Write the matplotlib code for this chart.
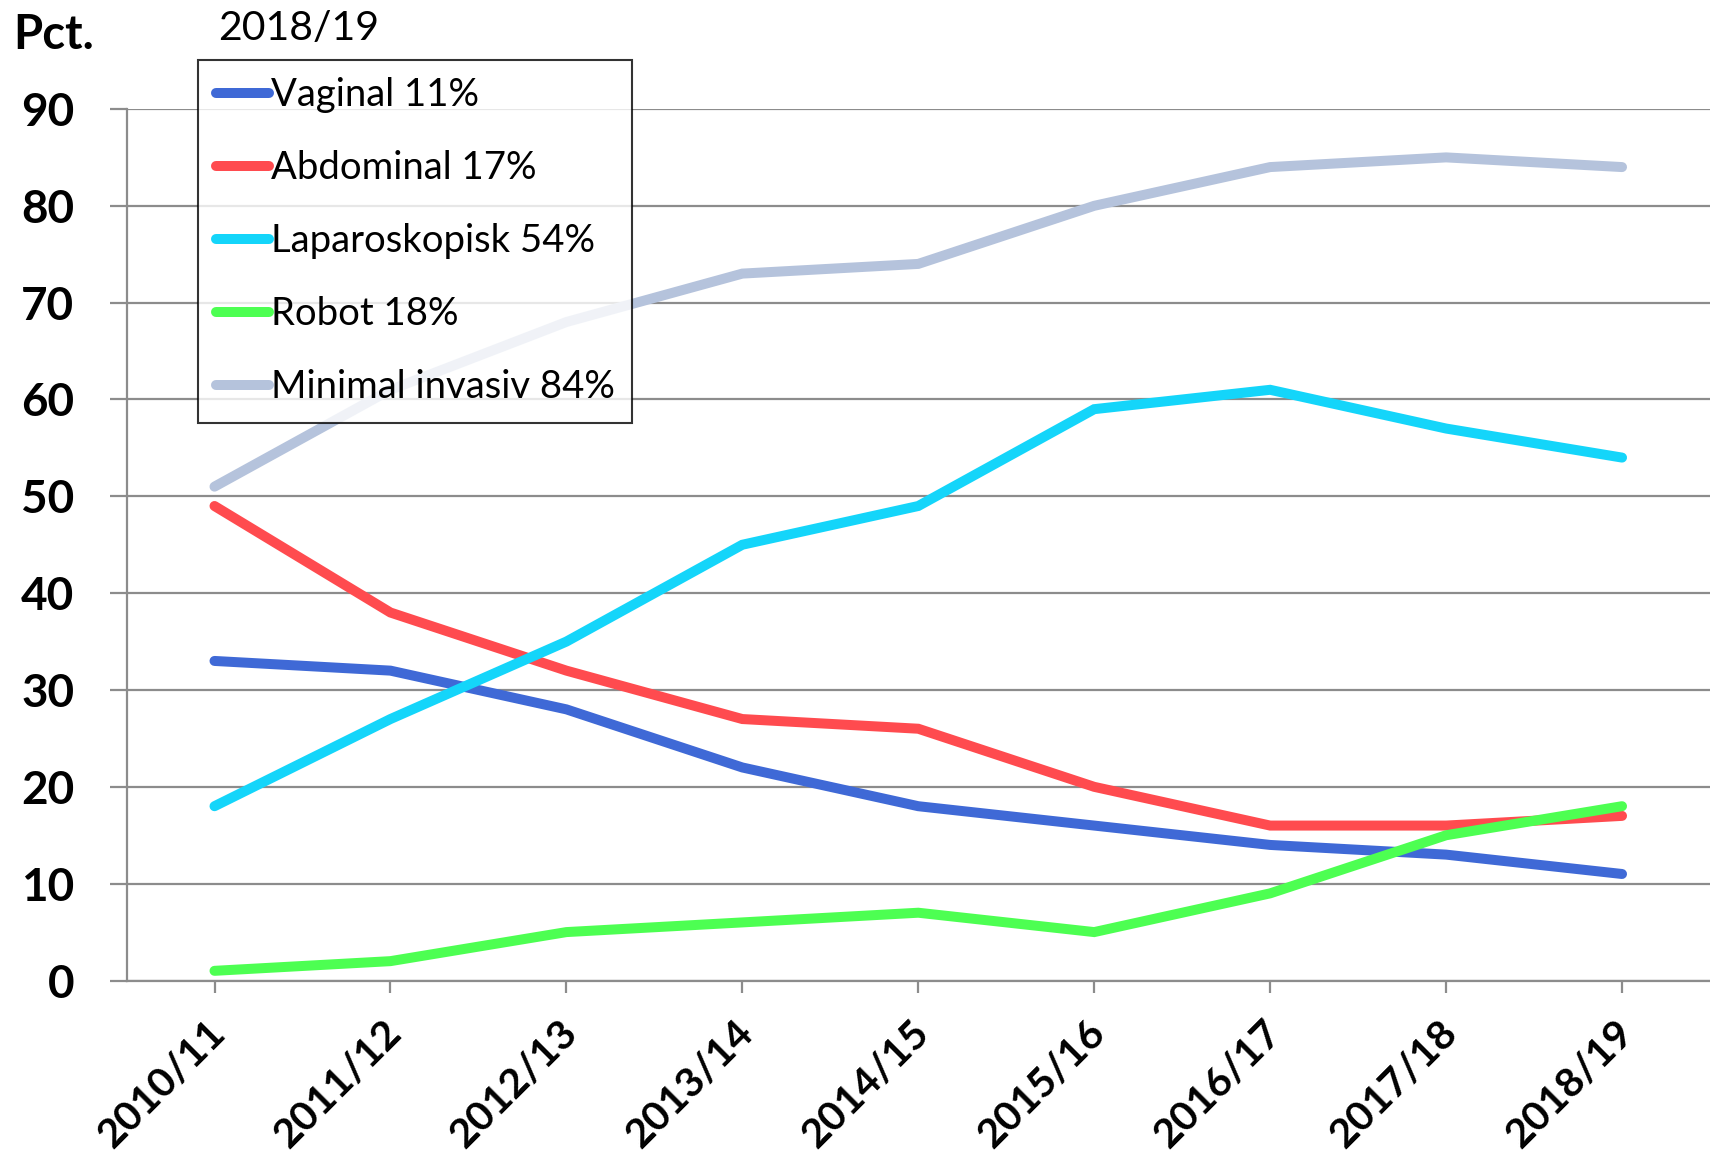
import matplotlib
matplotlib.use("Agg")
import matplotlib.pyplot as plt
from matplotlib.transforms import ScaledTranslation
import numpy as np

categories = ["2010/11", "2011/12", "2012/13", "2013/14", "2014/15",
              "2015/16", "2016/17", "2017/18", "2018/19"]
vaginal = [33, 32, 28, 22, 18, 16, 14, 13, 11]
abdominal = [49, 38, 32, 27, 26, 20, 16, 16, 17]
laparoskopisk = [18, 27, 35, 45, 49, 59, 61, 57, 54]
robot = [1, 2, 5, 6, 7, 5, 9, 15, 18]
minimal_invasiv = [51, 61, 68, 73, 74, 80, 84, 85, 84]
series_labels = ["Vaginal 11%", "Abdominal 17%", "Laparoskopisk 54%",
                 "Robot 18%", "Minimal invasiv 84%"]
colors = ["#3F69D6", "#FF4B4F", "#14D5FA", "#4DFF52", "#B5C3DC"]
yticks = [0, 10, 20, 30, 40, 50, 60, 70, 80, 90]

FONT = ["Lato", "DejaVu Sans"]
plt.rcParams['font.family'] = FONT

fig = plt.figure(figsize=(17.10, 11.73), dpi=100)
ax = fig.add_axes([0.074, 0.1641, 0.926, 0.743])

x = np.arange(len(categories))
for vals, lab, col in zip([vaginal, abdominal, laparoskopisk, robot, minimal_invasiv],
                          series_labels, colors):
    ax.plot(x, vals, color=col, lw=7.2, label=lab, solid_capstyle='round',
            solid_joinstyle='miter')

ax.set_xlim(-0.5, 8.5)
ax.set_ylim(0, 90)
ax.set_yticks(yticks)
ax.set_yticklabels([str(v) for v in yticks], fontsize=33, fontweight='bold')
ax.set_xticks(x)

ax.grid(axis='y', color='#8C8C8C', lw=1.6)
ax.set_axisbelow(True)
for s in ['top', 'right']:
    ax.spines[s].set_visible(False)
for s in ['left', 'bottom']:
    ax.spines[s].set_color('#8C8C8C')
    ax.spines[s].set_linewidth(1.6)
ax.tick_params(axis='y', length=12.5, width=1.6, color='#8C8C8C', pad=25)
ax.tick_params(axis='x', length=8.5, width=1.6, color='#8C8C8C', pad=4)

ax.set_xticklabels(categories, fontsize=29.5, fontweight='bold', rotation=45,
                   ha='right', va='top', rotation_mode='anchor')
off = ScaledTranslation(-5.5/72, -11.8/72, fig.dpi_scale_trans)
for lbl in ax.get_xticklabels():
    lbl.set_transform(lbl.get_transform() + off)

leg = fig.legend(loc='upper left', bbox_to_anchor=(0.116, 0.9488),
                 bbox_transform=fig.transFigure, borderaxespad=0,
                 frameon=True, fancybox=False, edgecolor='black',
                 prop={'family': FONT, 'size': 27.5},
                 handlelength=1.4, handletextpad=0.05, labelspacing=0.97,
                 borderpad=0.45)
leg.get_frame().set_linewidth(1.5)
for h in leg.get_lines():
    h.set_solid_capstyle('round')

fig.text(13/1710, 1 - 35/1173, "Pct.", fontsize=34, fontweight='bold',
         ha='left', va='center')
fig.text(218/1710, 1 - 29/1173, "2018/19", fontsize=29.5,
         ha='left', va='center')

fig.savefig("out.png", dpi=100, facecolor='white')
